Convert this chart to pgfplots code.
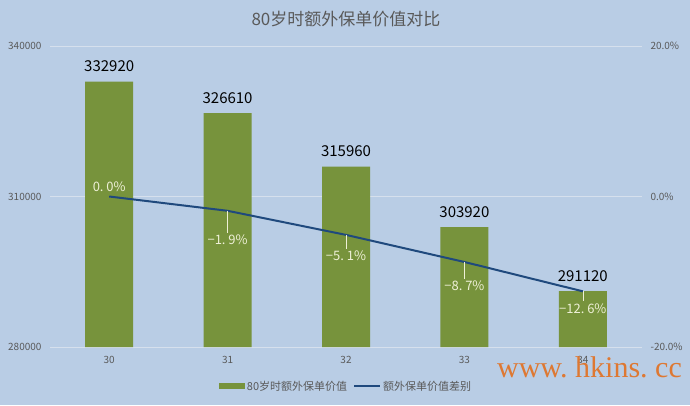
\documentclass[border=0pt]{standalone}
\usepackage{fontspec}
\setmainfont{Noto Sans CJK SC}
\newfontfamily\wmfont{Liberation Serif}
\usepackage{pgfplots}
\pgfplotsset{compat=1.18}
\usetikzlibrary{backgrounds}
\definecolor{bg}{RGB}{185,205,229}
\definecolor{bargreen}{RGB}{119,147,60}
\definecolor{linblue}{RGB}{31,73,125}
\definecolor{tickgray}{RGB}{89,89,89}
\definecolor{gridc}{RGB}{214,224,237}
\definecolor{lbl}{RGB}{238,240,215}
\definecolor{wm}{RGB}{222,120,50}
\newcommand{\dsp}{\hspace{0.22em}}
\begin{document}
\begin{tikzpicture}[x=1pt,y=1pt]
\begin{axis}[name=ax, scale only axis, width=592pt, height=301pt, at={(0,0)}, anchor=south west,
  xmin=-0.5, xmax=4.5, ymin=280000, ymax=340000,
  ytick={280000,310000,340000},
  xtick={0,...,4}, xticklabels={30,31,32,33,34},
  axis line style={draw=none}, major tick length=0pt,
  ymajorgrids, grid style={gridc, line width=0.8pt},
  scaled y ticks=false,
  /pgf/number format/fixed, /pgf/number format/precision=0,
  /pgf/number format/assume math mode=true,
  /pgf/number format/1000 sep={},
  yticklabel style={font=\fontsize{10}{12}\selectfont, text=tickgray, xshift=-5pt},
  xticklabel style={font=\fontsize{10}{12}\selectfont, text=tickgray, yshift=-6pt},
  title={80岁时额外保单价值对比},
  title style={font=\fontsize{17}{20}\selectfont, text=tickgray, at={(0.5,1)}, anchor=center, yshift=21pt},
  ybar, bar width=48pt,
  nodes near coords,
  every node near coord/.append style={font=\fontsize{15}{18}\selectfont, text=black, yshift=6pt},
  legend style={at={(0.5,-0.13)}, anchor=center, draw=none, fill=none, legend columns=2,
    font=\fontsize{11}{13}\selectfont, text=tickgray,
    /tikz/every even column/.style={column sep=4pt}},
]
\addplot[fill=bargreen, draw=none,
  legend image code/.code={\fill[bargreen] (0pt,-3pt) rectangle (26pt,3pt);}]
  coordinates {(0,332920) (1,326610) (2,315960) (3,303920) (4,291120)};
\addlegendentry{80岁时额外保单价值}
\addlegendimage{legend image code/.code={\draw[linblue,line width=2pt] (0pt,0pt)--(26pt,0pt);}}
\addlegendentry{额外保单价值差别}
\end{axis}
\begin{axis}[scale only axis, width=592pt, height=301pt, at={(0,0)}, anchor=south west,
  xmin=-0.5, xmax=4.5, ymin=-20, ymax=20,
  axis y line*=right, axis x line=none,
  axis line style={draw=none}, major tick length=0pt,
  ytick={-20,0,20}, yticklabels={-20.0\%,0.0\%,20.0\%},
  yticklabel style={font=\fontsize{10}{12}\selectfont, text=tickgray, xshift=5pt},
]
\addplot[linblue, line width=2pt, mark=none]
  coordinates {(0,0) (1,-1.9) (2,-5.1) (3,-8.7) (4,-12.6)};
\begin{scope}[lbl, font=\fontsize{13}{15}\selectfont]
\node at ([yshift=10pt]axis cs:0,0) {0.\dsp0\%};
\draw[line width=0.4pt] (axis cs:1,-1.9) -- ([yshift=-22pt]axis cs:1,-1.9);
\node[below, inner sep=1pt] at ([yshift=-23pt]axis cs:1,-1.9) {−1.\dsp9\%};
\draw[line width=0.4pt] (axis cs:2,-5.1) -- ([yshift=-14pt]axis cs:2,-5.1);
\node[below, inner sep=1pt] at ([yshift=-15pt]axis cs:2,-5.1) {−5.\dsp1\%};
\draw[line width=0.4pt] (axis cs:3,-8.7) -- ([yshift=-17pt]axis cs:3,-8.7);
\node[below, inner sep=1pt] at ([yshift=-18pt]axis cs:3,-8.7) {−8.\dsp7\%};
\draw[line width=0.4pt] (axis cs:4,-12.6) -- ([yshift=-10pt]axis cs:4,-12.6);
\node[below, inner sep=1pt] at ([yshift=-11pt]axis cs:4,-12.6) {−12.\dsp6\%};
\end{scope}
\end{axis}
\node[text=wm, font=\wmfont\fontsize{30}{32}\selectfont, anchor=base] at (539.5,-30) {www.\ hkins.\ cc};
\begin{pgfonlayer}{background}
\fill[bg] (-50,-58) rectangle (640,347);
\end{pgfonlayer}
\pgfresetboundingbox
\useasboundingbox (-50,-58) rectangle (640,347);
\end{tikzpicture}
\end{document}
